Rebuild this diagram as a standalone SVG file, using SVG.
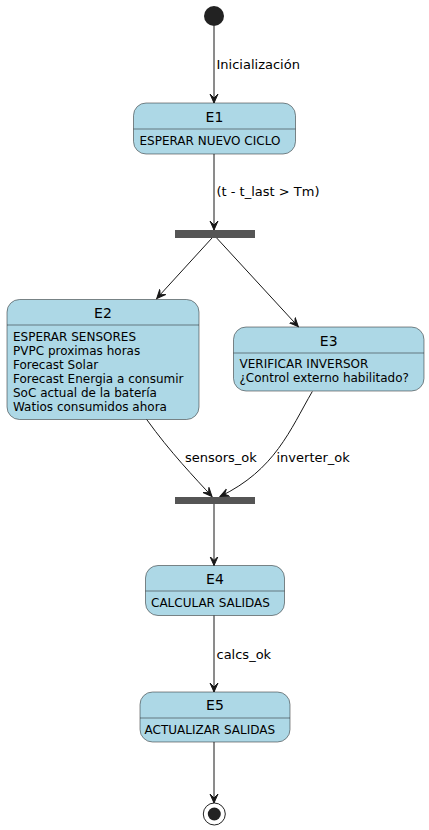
<svg xmlns="http://www.w3.org/2000/svg" width="429" height="830" viewBox="0 0 429 830">
<defs>
<marker id="a" markerWidth="10" markerHeight="10" refX="9" refY="5" orient="auto" markerUnits="userSpaceOnUse" viewBox="0 0 10 10">
<path d="M0,1 L9,5 L0,9 L4,5 Z" fill="#181818" stroke="#181818" stroke-width="1"/>
</marker>
</defs>
<style>
.st{fill:#ADD8E6;stroke:#181818;stroke-width:0.5}
.dv{stroke:#181818;stroke-width:0.5}
.t{font-family:"DejaVu Sans",sans-serif;font-size:14px;fill:#000;text-anchor:middle}
.d{font-family:"DejaVu Sans",sans-serif;font-size:12px;fill:#000}
.l{font-family:"DejaVu Sans",sans-serif;font-size:13px;fill:#000}
.e{fill:none;stroke:#181818;stroke-width:1;marker-end:url(#a)}
.bar{fill:#555555}
</style>
<g id="start"><circle cx="214" cy="16" r="10" fill="#222222"/></g>
<g id="E1">
<rect class="st" x="133.5" y="103" width="162" height="51" rx="12.5"/>
<line class="dv" x1="133.5" y1="129" x2="295.5" y2="129"/>
<text class="t" x="214.5" y="121.5">E1</text>
<text class="d" x="139.5" y="144.5">ESPERAR NUEVO CICLO</text>
</g>
<g id="fork"><rect class="bar" x="175" y="230" width="80" height="8"/></g>
<g id="E2">
<rect class="st" x="7" y="299.5" width="192" height="120" rx="12.5"/>
<line class="dv" x1="7" y1="325" x2="199" y2="325"/>
<text class="t" x="103" y="318">E2</text>
<text class="d" x="13" y="341">ESPERAR SENSORES</text>
<text class="d" x="13" y="355">PVPC proximas horas</text>
<text class="d" x="13" y="369">Forecast Solar</text>
<text class="d" x="13" y="383">Forecast Energia a consumir</text>
<text class="d" x="13" y="397">SoC actual de la batería</text>
<text class="d" x="13" y="411">Watios consumidos ahora</text>
</g>
<g id="E3">
<rect class="st" x="233.5" y="327" width="190.5" height="64" rx="12.5"/>
<line class="dv" x1="233.5" y1="353" x2="424" y2="353"/>
<text class="t" x="328.7" y="345.5">E3</text>
<text class="d" x="239.5" y="368">VERIFICAR INVERSOR</text>
<text class="d" x="239.5" y="382">¿Control externo habilitado?</text>
</g>
<g id="join"><rect class="bar" x="175" y="497" width="80" height="7"/></g>
<g id="E4">
<rect class="st" x="145.5" y="565.5" width="139" height="50" rx="12.5"/>
<line class="dv" x1="145.5" y1="591" x2="284.5" y2="591"/>
<text class="t" x="215" y="583.5">E4</text>
<text class="d" x="151" y="607">CALCULAR SALIDAS</text>
</g>
<g id="E5">
<rect class="st" x="140" y="692" width="150" height="50" rx="12.5"/>
<line class="dv" x1="140" y1="718" x2="290" y2="718"/>
<text class="t" x="215" y="710">E5</text>
<text class="d" x="144.5" y="734">ACTUALIZAR SALIDAS</text>
</g>
<g id="end">
<circle cx="214.3" cy="814" r="11" fill="none" stroke="#222222" stroke-width="1"/>
<circle cx="214.3" cy="814" r="6.5" fill="#222222"/>
</g>
<g id="connectors">
<path class="e" d="M214,26 L214,103"/>
<text class="l" x="216.5" y="69">Inicialización</text>
<path class="e" d="M214,154 L214,230"/>
<text class="l" x="216.5" y="196">(t - t_last &gt; Tm)</text>
<path class="e" d="M212,238 L156.7,298.5"/>
<path class="e" d="M216.7,238 L298.3,326.7"/>
<path class="e" d="M146.7,419.5 C170,452 195,478 212,496.5"/>
<text class="l" x="185" y="462">sensors_ok</text>
<path class="e" d="M312.3,391.5 C290,430 275,470 220,496.5"/>
<text class="l" x="276.5" y="462">inverter_ok</text>
<path class="e" d="M214,504 L214,565.5"/>
<path class="e" d="M214,615.5 L214,692"/>
<text class="l" x="216.5" y="659">calcs_ok</text>
<path class="e" d="M214,742 L214,803"/>
</g>
</svg>
